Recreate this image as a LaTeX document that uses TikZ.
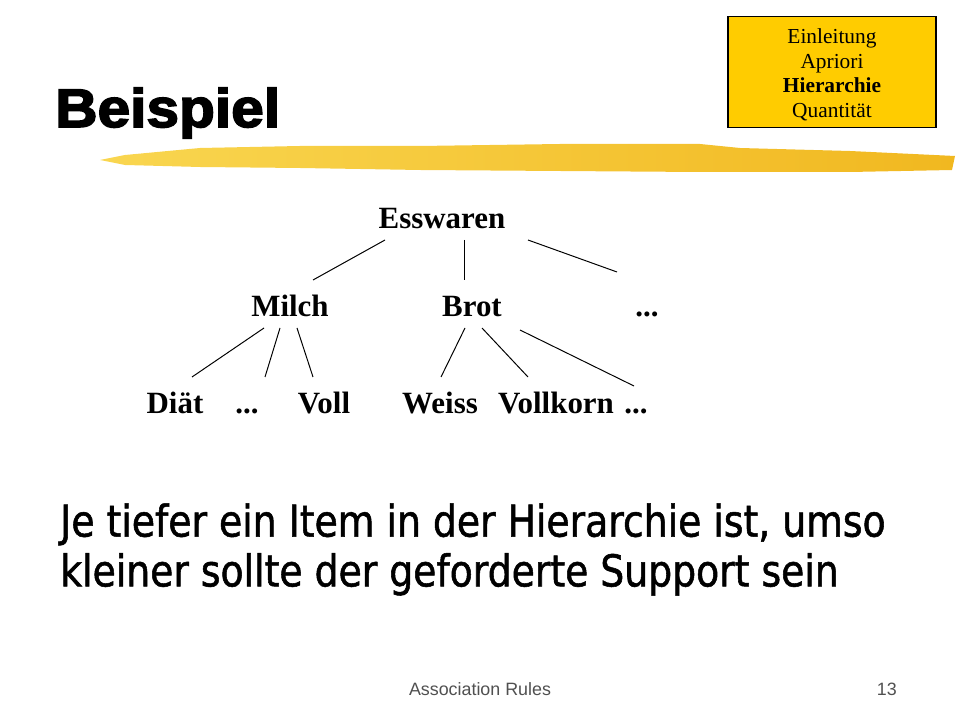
\documentclass[tikz,border=0pt]{standalone}
\usepackage{fontspec}
\setmainfont{Liberation Serif}
\newfontfamily\titlefont[FakeStretch=1.08,FakeBold=3]{Liberation Sans}
\newfontfamily\bodyfont[FakeStretch=0.86,FakeBold=1.2]{DejaVu Sans}
\newfontfamily\footfont{Liberation Sans}
\definecolor{boxgold}{HTML}{FFCC00}
\definecolor{brushlight}{HTML}{F9D650}
\definecolor{brushdark}{HTML}{F1B820}
\definecolor{footgray}{HTML}{505050}
\begin{document}
\begin{tikzpicture}[x=0.025cm,y=-0.025cm,
tree/.style={font=\bfseries\fontsize{22}{26}\selectfont, inner sep=0pt, anchor=base},
branch/.style={draw,line width=0.7pt},
]
\useasboundingbox (0,0) rectangle (960,720);

\shade[left color=brushlight,right color=brushdark] (100,160) -- (125,155) -- (200,148) -- (300,146) -- (420,146) -- (560,144) -- (700,144) -- (740,148) -- (850,151) -- (955,156) -- (952,170) -- (850,172) -- (700,172) -- (560,171) -- (420,170) -- (300,168) -- (200,167) -- (125,165) -- cycle;

\node[anchor=base west,inner sep=0pt,font=\titlefont\bfseries\fontsize{38.6}{44}\selectfont] (title) at (55,127) {Beispiel};

\node[draw,fill=boxgold,line width=0.8pt,minimum width=5.2cm,minimum height=2.78cm,align=center,
font=\fontsize{15.2}{17.7}\selectfont] (toc) at (832,72) {\raisebox{-2pt}[\height][\depth]{\parbox{4cm}{\centering Einleitung\\Apriori\\\textbf{Hierarchie}\\Quantität}}};

\node[tree] (esswaren) at (442,229) {Esswaren};
\node[tree] (milch) at (290,317) {Milch};
\node[tree] (brot) at (472,317) {Brot};
\node[tree] (moreA) at (647,317) {...};
\node[tree] (diaet) at (175,414) {Diät};
\node[tree] (moreB) at (247,414) {...};
\node[tree] (voll) at (324,414) {Voll};
\node[tree] (weiss) at (440,414) {Weiss};
\node[tree] (vollkorn) at (556,414) {Vollkorn};
\node[tree] (moreC) at (636,414) {...};

\draw[branch] ([shift={(-57,11)}]esswaren.base) -- ([shift={(23,-37)}]milch.base);
\draw[branch] ([shift={(22,11)}]esswaren.base) -- ([shift={(-8,-37)}]brot.base);
\draw[branch] ([shift={(86,11)}]esswaren.base) -- ([shift={(-30,-45)}]moreA.base);
\draw[branch] ([shift={(-26,11)}]milch.base) -- ([shift={(17,-37)}]diaet.base);
\draw[branch] ([shift={(-10,11)}]milch.base) -- ([shift={(18,-37)}]moreB.base);
\draw[branch] ([shift={(7,11)}]milch.base) -- ([shift={(-11,-37)}]voll.base);
\draw[branch] ([shift={(-7,11)}]brot.base) -- ([shift={(1,-37)}]weiss.base);
\draw[branch] ([shift={(10,11)}]brot.base) -- ([shift={(-28,-37)}]vollkorn.base);
\draw[branch] ([shift={(48,13)}]brot.base) -- ([shift={(-2,-28)}]moreC.base);

\node[anchor=north west,inner sep=0pt,align=left,font=\bodyfont\fontsize{31.2}{35.4}\selectfont] (remark) at (60,503)
{Je tiefer ein Item in der Hierarchie ist, umso\\kleiner sollte der geforderte Support sein};

\node[anchor=base,inner sep=0pt,text=footgray,font=\footfont\fontsize{12.7}{15}\selectfont] (footer) at (480,695) {Association Rules};
\node[anchor=base east,inner sep=0pt,text=footgray,font=\footfont\fontsize{12.7}{15}\selectfont] (page) at (897,695) {13};
\end{tikzpicture}
\end{document}
